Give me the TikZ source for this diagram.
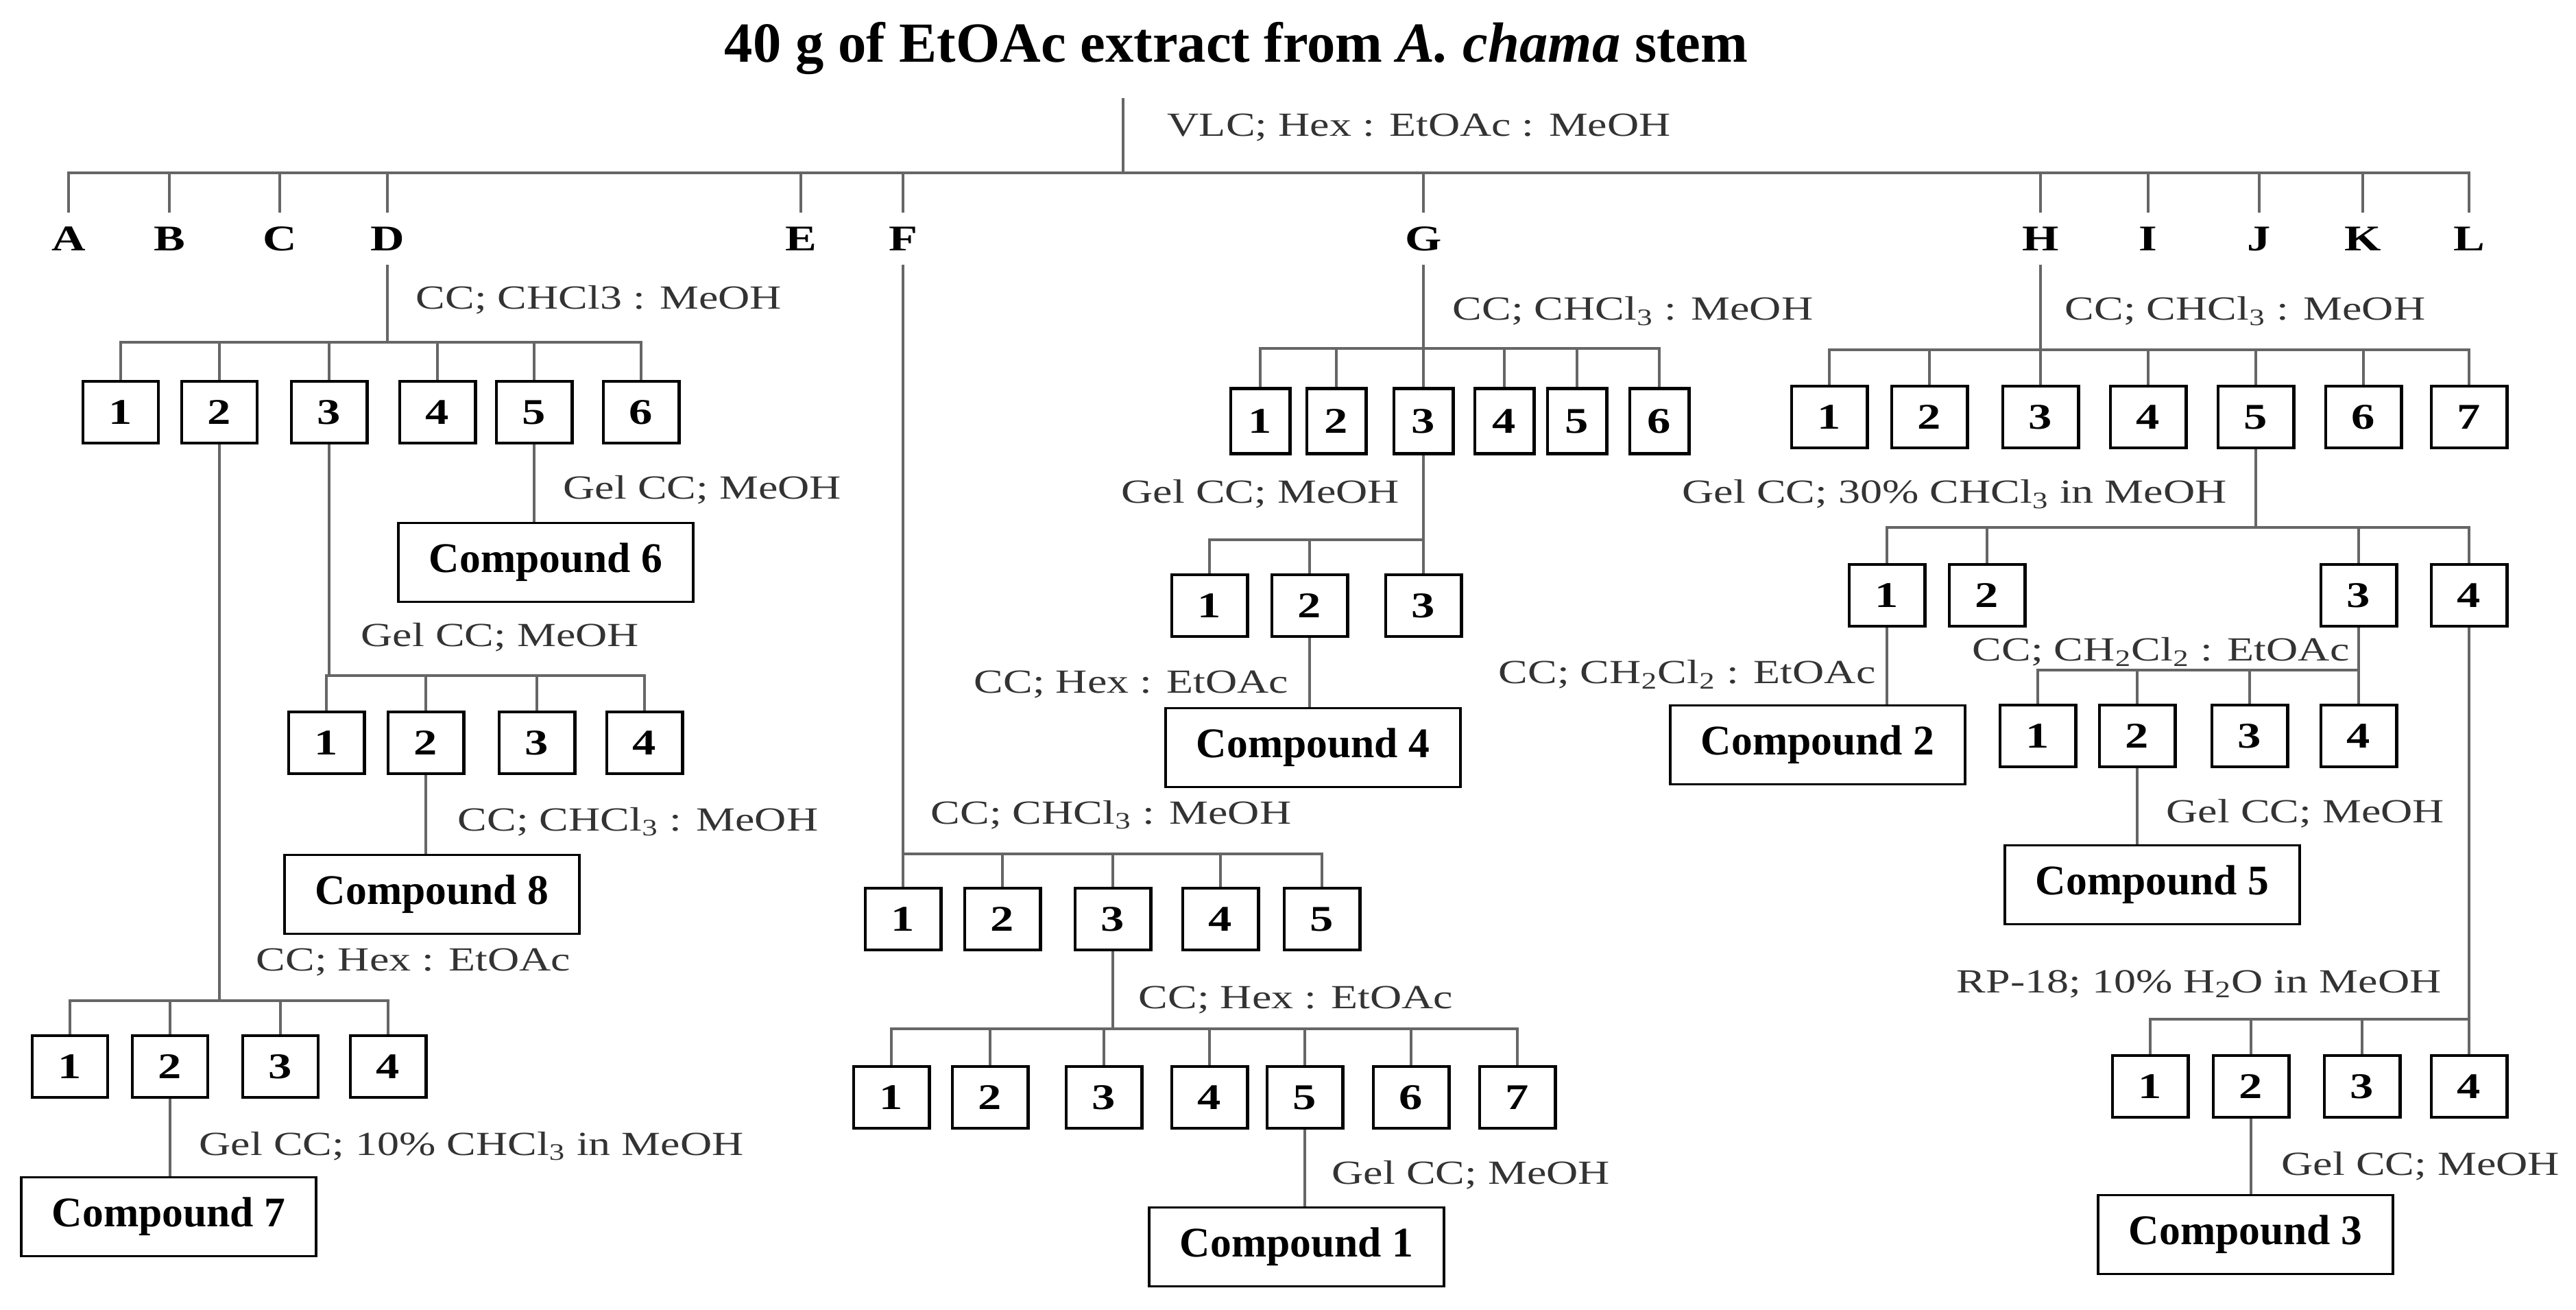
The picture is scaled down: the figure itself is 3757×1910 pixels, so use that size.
\documentclass[tikz,border=0pt]{standalone}
\usepackage{fontspec}
\setmainfont{Liberation Serif}
\newfontfamily\widefont[FakeStretch=1.3]{Liberation Serif}
\usepackage{xcolor}
\usepackage{tikz}
\usetikzlibrary{positioning}

\definecolor{linegray}{gray}{0.4}
\definecolor{textgray}{gray}{0.2}

\tikzset{
  frac/.style={draw, line width=1.4pt, minimum width=1.1cm, minimum height=0.9cm, inner sep=0pt, font=\widefont\bfseries\fontsize{15}{15}\selectfont},
  gfrac/.style={frac, minimum width=0.86cm, minimum height=0.95cm},
  cmpd/.style={draw, line width=1.1pt, minimum width=4.3cm, minimum height=1.15cm, inner sep=0pt, font=\bfseries\fontsize{17.5}{18}\selectfont},
  cond/.style={anchor=base west, inner sep=0pt, text=textgray, font=\widefont\fontsize{14}{14}\selectfont},
  ltr/.style={inner sep=0pt, minimum height=0.75cm, text height=10pt, text depth=0pt, font=\widefont\bfseries\fontsize{15}{15}\selectfont},
  link/.style={draw=linegray, line width=0.9pt},
}

\begin{document}
\begin{tikzpicture}[x=0.01cm, y=-0.01cm]
  \useasboundingbox (0,0) rectangle (3757,1910);

  \node[anchor=base, inner sep=0pt, font=\bfseries\fontsize{23.5}{26}\selectfont] (title) at (1803,91) {40 g of EtOAc extract from \textit{A. chama} stem};

  % VLC into fractions A-L
  \coordinate (vlctop) at (1638,143);
  \coordinate (vlc) at (1638,252);
  \draw[link] (vlctop) -- (vlc);
  \node[cond] (lblvlc) at (1702,199) {VLC; Hex : EtOAc : MeOH};
  \foreach \ch/\x in {A/100,B/247,C/408,D/565,E/1168,F/1317,G/2076,H/2976,I/3133,J/3295,K/3446,L/3601} {
    \node[ltr] (\ch) at (\x,348) {\ch};
    \draw[link] (\ch.north) |- (vlc);
  }

  % Fraction D
  \coordinate (dbar) at (565,499);
  \draw[link] (D.south) -- (dbar);
  \node[cond] (lbld) at (606,451) {CC; CHCl3 : MeOH};
  \foreach \i/\x in {1/176,2/320,3/480,4/638,5/779,6/935} {
    \node[frac] (d\i) at (\x,601) {\i};
    \draw[link] (d\i.north) |- (dbar);
  }

  \node[cond] (lbld5) at (821,728) {Gel CC; MeOH};
  \node[cmpd] (c6) at (796,820) {Compound 6};
  \draw[link] (d5.south) -- (d5.south |- c6.north);

  \coordinate (d3bar) at (480,985);
  \draw[link] (d3.south) -- (d3bar);
  \node[cond] (lbld3) at (526,943) {Gel CC; MeOH};
  \foreach \i/\x in {1/476,2/621,3/783,4/940} {
    \node[frac] (d3\i) at (\x,1083) {\i};
    \draw[link] (d3\i.north) |- (d3bar);
  }
  \node[cond] (lbld32) at (667,1211) {CC; CHCl\textsubscript{3} : MeOH};
  \node[cmpd] (c8) at (630,1304) {Compound 8};
  \draw[link] (d32.south) -- (d32.south |- c8.north);

  \coordinate (d2bar) at (320,1459);
  \draw[link] (d2.south) -- (d2bar);
  \node[cond] (lbld2) at (373,1415) {CC; Hex : EtOAc};
  \foreach \i/\x in {1/102,2/248,3/409,4/566} {
    \node[frac] (d2\i) at (\x,1555) {\i};
    \draw[link] (d2\i.north) |- (d2bar);
  }
  \node[cond] (lbld22) at (290,1684) {Gel CC; 10\% CHCl\textsubscript{3} in MeOH};
  \node[cmpd] (c7) at (246,1774) {Compound 7};
  \draw[link] (d22.south) -- (d22.south |- c7.north);

  % Fraction F
  \coordinate (fbar) at (1317,1245);
  \draw[link] (F.south) -- (fbar);
  \node[cond] (lblf) at (1357,1201) {CC; CHCl\textsubscript{3} : MeOH};
  \foreach \i/\x in {1/1317,2/1462,3/1623,4/1780,5/1928} {
    \node[frac] (f\i) at (\x,1340) {\i};
    \draw[link] (f\i.north) |- (fbar);
  }
  \coordinate (f3bar) at (1623,1500);
  \draw[link] (f3.south) -- (f3bar);
  \node[cond] (lblf3) at (1660,1470) {CC; Hex : EtOAc};
  \foreach \i/\x in {1/1300,2/1444,3/1610,4/1764,5/1903,6/2058,7/2213} {
    \node[frac] (f3\i) at (\x,1600) {\i};
    \draw[link] (f3\i.north) |- (f3bar);
  }
  \node[cond] (lblf35) at (1942,1726) {Gel CC; MeOH};
  \node[cmpd] (c1) at (1891,1818) {Compound 1};
  \draw[link] (f35.south) -- (f35.south |- c1.north);

  % Fraction G
  \coordinate (gbar) at (2076,508);
  \draw[link] (G.south) -- (gbar);
  \node[cond] (lblg) at (2118,467) {CC; CHCl\textsubscript{3} : MeOH};
  \foreach \i/\x in {1/1838,2/1949,3/2076,4/2194,5/2300,6/2420} {
    \node[gfrac] (g\i) at (\x,614) {\i};
    \draw[link] (g\i.north) |- (gbar);
  }
  \coordinate (g3bar) at (2076,787);
  \draw[link] (g3.south) -- (g3bar);
  \node[cond] (lblg3) at (1635,734) {Gel CC; MeOH};
  \foreach \i/\x in {1/1764,2/1910,3/2076} {
    \node[frac] (g3\i) at (\x,883) {\i};
    \draw[link] (g3\i.north) |- (g3bar);
  }
  \node[cond] (lblg32) at (1420,1011) {CC; Hex : EtOAc};
  \node[cmpd] (c4) at (1915,1090) {Compound 4};
  \draw[link] (g32.south) -- (g32.south |- c4.north);

  % Fraction H
  \coordinate (hbar) at (2976,510);
  \draw[link] (H.south) -- (hbar);
  \node[cond] (lblh) at (3011,467) {CC; CHCl\textsubscript{3} : MeOH};
  \foreach \i/\x in {1/2668,2/2814,3/2976,4/3133,5/3290,6/3447,7/3601} {
    \node[frac] (h\i) at (\x,608) {\i};
    \draw[link] (h\i.north) |- (hbar);
  }
  \coordinate (h5bar) at (3290,769);
  \draw[link] (h5.south) -- (h5bar);
  \node[cond] (lblh5) at (2453,734) {Gel CC; 30\% CHCl\textsubscript{3} in MeOH};
  \foreach \i/\x in {1/2752,2/2898,3/3440,4/3601} {
    \node[frac] (h5\i) at (\x,868) {\i};
    \draw[link] (h5\i.north) |- (h5bar);
  }
  \node[cond] (lblh51) at (2185,997) {CC; CH\textsubscript{2}Cl\textsubscript{2} : EtOAc};
  \node[cmpd] (c2) at (2651,1086) {Compound 2};
  \draw[link] (h51.south) -- (h51.south |- c2.north);

  \coordinate (h53bar) at (3440,977);
  \draw[link] (h53.south) -- (h53bar);
  \node[cond] (lblh53) at (2876,964) {CC; CH\textsubscript{2}Cl\textsubscript{2} : EtOAc};
  \foreach \i/\x in {1/2972,2/3117,3/3281,4/3440} {
    \node[frac] (h53\i) at (\x,1073) {\i};
    \draw[link] (h53\i.north) |- (h53bar);
  }
  \node[cond] (lblh532) at (3159,1199) {Gel CC; MeOH};
  \node[cmpd] (c5) at (3139,1290) {Compound 5};
  \draw[link] (h532.south) -- (h532.south |- c5.north);

  \coordinate (h54bar) at (3601,1486);
  \draw[link] (h54.south) -- (h54bar);
  \node[cond] (lblh54) at (2853,1447) {RP-18; 10\% H\textsubscript{2}O in MeOH};
  \foreach \i/\x in {1/3136,2/3283,3/3445,4/3601} {
    \node[frac] (h54\i) at (\x,1584) {\i};
    \draw[link] (h54\i.north) |- (h54bar);
  }
  \node[cond] (lblh542) at (3327,1713) {Gel CC; MeOH};
  \node[cmpd] (c3) at (3275,1800) {Compound 3};
  \draw[link] (h542.south) -- (h542.south |- c3.north);
\end{tikzpicture}
\end{document}
